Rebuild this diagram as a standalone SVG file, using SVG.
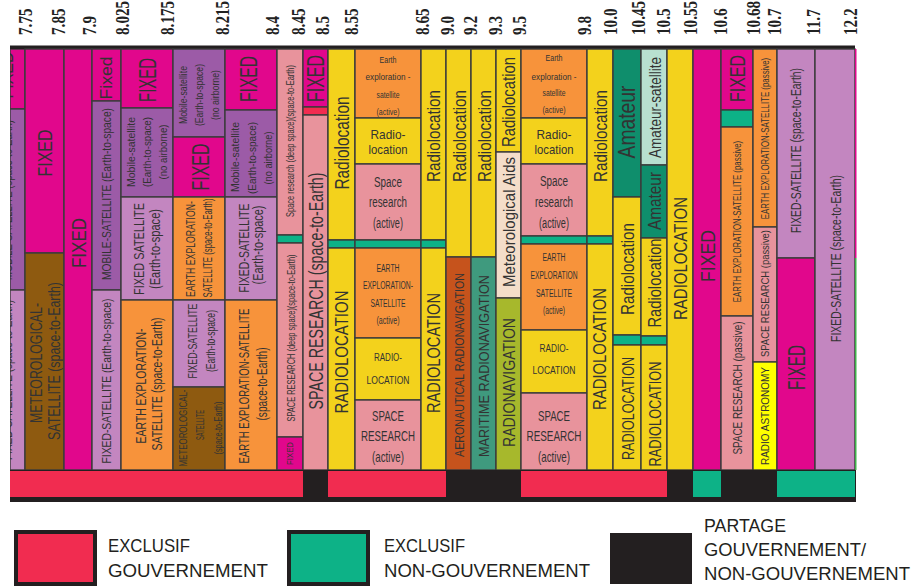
<svg xmlns="http://www.w3.org/2000/svg" width="914" height="588" viewBox="0 0 914 588">
<style>
.c{stroke:#3b3b3b;stroke-width:1.4}
.fx{fill:#e1078c}.ms{fill:#9c5ba7}.fs{fill:#c386c0}.ee{fill:#f7933b}.me{fill:#8e5a10}.sr{fill:#e8939c}.rl{fill:#f3d21c}.gn{fill:#0db287}.rd{fill:#f12c50}.ar{fill:#c6531c}.mr{fill:#3f9a7e}.rn{fill:#a7b82c}.ma{fill:#f4ddc9}.am{fill:#0f8e6c}.as{fill:#b8e0d0}.ra{fill:#ffff00}
text{font-family:"Liberation Sans",Arial,sans-serif;fill:#333}
.v,.h{text-anchor:middle;dominant-baseline:central}
.f{font-family:"Liberation Serif","Times New Roman",serif;font-weight:bold;fill:#222;font-size:19px}
.lg{font-size:18px;fill:#231f20}
</style>
<defs>
<clipPath id="clip1"><rect x="10" y="49" width="15" height="421"/></clipPath>
</defs>

<g id="freq-labels">
<text class="f" transform="translate(32,35) rotate(-90) scale(0.8,1)">7.75</text>
<text class="f" transform="translate(65,35) rotate(-90) scale(0.8,1)">7.85</text>
<text class="f" transform="translate(96,35) rotate(-90) scale(0.8,1)">7.9</text>
<text class="f" transform="translate(128.5,35) rotate(-90) scale(0.8,1)">8.025</text>
<text class="f" transform="translate(174,35) rotate(-90) scale(0.8,1)">8.175</text>
<text class="f" transform="translate(228.5,35) rotate(-90) scale(0.8,1)">8.215</text>
<text class="f" transform="translate(278.5,35) rotate(-90) scale(0.8,1)">8.4</text>
<text class="f" transform="translate(304.5,35) rotate(-90) scale(0.8,1)">8.45</text>
<text class="f" transform="translate(328.5,35) rotate(-90) scale(0.8,1)">8.5</text>
<text class="f" transform="translate(357.5,35) rotate(-90) scale(0.8,1)">8.55</text>
<text class="f" transform="translate(428.5,35) rotate(-90) scale(0.8,1)">8.65</text>
<text class="f" transform="translate(453.5,35) rotate(-90) scale(0.8,1)">9.0</text>
<text class="f" transform="translate(476.5,35) rotate(-90) scale(0.8,1)">9.2</text>
<text class="f" transform="translate(501.5,35) rotate(-90) scale(0.8,1)">9.3</text>
<text class="f" transform="translate(525.5,35) rotate(-90) scale(0.8,1)">9.5</text>
<text class="f" transform="translate(590.5,35) rotate(-90) scale(0.8,1)">9.8</text>
<text class="f" transform="translate(616.5,35) rotate(-90) scale(0.8,1)">10.0</text>
<text class="f" transform="translate(644.5,35) rotate(-90) scale(0.8,1)">10.45</text>
<text class="f" transform="translate(669.5,35) rotate(-90) scale(0.8,1)">10.5</text>
<text class="f" transform="translate(696.5,35) rotate(-90) scale(0.8,1)">10.55</text>
<text class="f" transform="translate(726.5,35) rotate(-90) scale(0.8,1)">10.6</text>
<text class="f" transform="translate(759.5,35) rotate(-90) scale(0.8,1)">10.68</text>
<text class="f" transform="translate(780.5,35) rotate(-90) scale(0.8,1)">10.7</text>
<text class="f" transform="translate(819.5,35) rotate(-90) scale(0.8,1)">11.7</text>
<text class="f" transform="translate(856.5,35) rotate(-90) scale(0.8,1)">12.2</text>
</g>

<rect x="10" y="45.5" width="845" height="4" fill="#231f20"/>

<g id="band-7.7" clip-path="url(#clip1)">
<rect class="c fx" x="10" y="49" width="15" height="60"/>
<rect class="c ms" x="10" y="109" width="15" height="181"/>
<rect class="c fs" x="10" y="290" width="15" height="180"/>
<text class="v" font-size="20" textLength="47" lengthAdjust="spacingAndGlyphs" transform="translate(6,75) rotate(-90)">FIXED</text>
<text class="v" font-size="13" textLength="160" lengthAdjust="spacingAndGlyphs" transform="translate(7,200) rotate(-90)">MOBILE-SATELLITE (space-to-Earth)</text>
<text class="v" font-size="13" textLength="160" lengthAdjust="spacingAndGlyphs" transform="translate(7,380) rotate(-90)">FIXED-SATELLITE (space-to-Earth)</text>
</g>

<g id="band-7.75">
<g id="b775-fixed"><rect class="c fx" x="25" y="49" width="39" height="204"/>
<text class="v" font-size="20" textLength="47" lengthAdjust="spacingAndGlyphs" transform="translate(44.5,153) rotate(-90)">FIXED</text></g>
<g id="b775-met"><rect class="c me" x="25" y="253" width="39" height="217"/>
<text class="v" font-size="17" textLength="120" lengthAdjust="spacingAndGlyphs" transform="translate(36.5,363) rotate(-90)">METEOROLOGICAL-</text>
<text class="v" font-size="17" textLength="158" lengthAdjust="spacingAndGlyphs" transform="translate(54.5,361) rotate(-90)">SATELLITE (space-to-Earth)</text></g>
</g>

<g id="band-7.85">
<rect class="c fx" x="64" y="49" width="28" height="421"/>
<text class="v" font-size="21" textLength="50" lengthAdjust="spacingAndGlyphs" transform="translate(78,243) rotate(-90)">FIXED</text>
</g>

<g id="band-7.9">
<g id="b79-fixed"><rect class="c fx" x="92" y="49" width="29" height="52"/>
<text class="v" font-size="17" textLength="43" lengthAdjust="spacingAndGlyphs" transform="translate(106.5,78) rotate(-90)">Fixed</text></g>
<g id="b79-mob"><rect class="c ms" x="92" y="101" width="29" height="189"/>
<text class="v" font-size="13" textLength="172" lengthAdjust="spacingAndGlyphs" transform="translate(106.5,194) rotate(-90)">MOBILE-SATELLITE (Earth-to-space)</text></g>
<g id="b79-fs"><rect class="c fs" x="92" y="290" width="29" height="180"/>
<text class="v" font-size="13" textLength="165" lengthAdjust="spacingAndGlyphs" transform="translate(106.5,381) rotate(-90)">FIXED-SATELLITE (Earth-to-space)</text></g>
</g>

<g id="band-8.025">
<g id="b8025-fixed"><rect class="c fx" x="121" y="49" width="52" height="59"/>
<text class="v" font-size="24" textLength="44" lengthAdjust="spacingAndGlyphs" transform="translate(147.5,80) rotate(-90)">FIXED</text></g>
<g id="b8025-mob"><rect class="c ms" x="121" y="108" width="52" height="89"/>
<text class="v" font-size="11" textLength="70" lengthAdjust="spacingAndGlyphs" transform="translate(131,152) rotate(-90)">Mobile-satellite</text>
<text class="v" font-size="11" textLength="70" lengthAdjust="spacingAndGlyphs" transform="translate(147,152) rotate(-90)">(Earth-to-space)</text>
<text class="v" font-size="11" textLength="55" lengthAdjust="spacingAndGlyphs" transform="translate(163,152) rotate(-90)">(no airborne)</text></g>
<g id="b8025-fs"><rect class="c fs" x="121" y="197" width="52" height="103"/>
<text class="v" font-size="15" textLength="92" lengthAdjust="spacingAndGlyphs" transform="translate(138,249) rotate(-90)">FIXED SATELLITE</text>
<text class="v" font-size="14" textLength="80" lengthAdjust="spacingAndGlyphs" transform="translate(155,249) rotate(-90)">(Earth-to-space)</text></g>
<g id="b8025-ee"><rect class="c ee" x="121" y="300" width="52" height="170"/>
<text class="v" font-size="15" textLength="115" lengthAdjust="spacingAndGlyphs" transform="translate(140,386) rotate(-90)">EARTH EXPLORATION-</text>
<text class="v" font-size="15" textLength="133" lengthAdjust="spacingAndGlyphs" transform="translate(156,384) rotate(-90)">SATELLITE (space-to-Earth)</text></g>
</g>

<g id="band-8.175">
<g id="b8175-mob"><rect class="c ms" x="173" y="49" width="52" height="88"/>
<text class="v" font-size="10.5" textLength="58" lengthAdjust="spacingAndGlyphs" transform="translate(183,95) rotate(-90)">Mobile-satellite</text>
<text class="v" font-size="10.5" textLength="62" lengthAdjust="spacingAndGlyphs" transform="translate(199,95) rotate(-90)">(Earth-to-space)</text>
<text class="v" font-size="10.5" textLength="50" lengthAdjust="spacingAndGlyphs" transform="translate(215,95) rotate(-90)">(no airborne)</text></g>
<g id="b8175-fixed"><rect class="c fx" x="173" y="137" width="52" height="60"/>
<text class="v" font-size="23" textLength="47" lengthAdjust="spacingAndGlyphs" transform="translate(201,167) rotate(-90)">FIXED</text></g>
<g id="b8175-ee"><rect class="c ee" x="173" y="197" width="52" height="103"/>
<text class="v" font-size="12" textLength="96" lengthAdjust="spacingAndGlyphs" transform="translate(191,249) rotate(-90)">EARTH EXPLORATION-</text>
<text class="v" font-size="12" textLength="99" lengthAdjust="spacingAndGlyphs" transform="translate(208,248) rotate(-90)">SATELLITE (space-to-Earth)</text></g>
<g id="b8175-fs"><rect class="c fs" x="173" y="300" width="52" height="87"/>
<text class="v" font-size="13" textLength="75" lengthAdjust="spacingAndGlyphs" transform="translate(192,341) rotate(-90)">FIXED-SATELLITE</text>
<text class="v" font-size="13" textLength="62" lengthAdjust="spacingAndGlyphs" transform="translate(210,341) rotate(-90)">(Earth-to-space)</text></g>
<g id="b8175-met"><rect class="c me" x="173" y="387" width="52" height="83"/>
<text class="v" font-size="10" textLength="77" lengthAdjust="spacingAndGlyphs" transform="translate(183,428) rotate(-90)">METEOROLOGICAL-</text>
<text class="v" font-size="10" textLength="30" lengthAdjust="spacingAndGlyphs" transform="translate(200,425) rotate(-90)">SATELLITE</text>
<text class="v" font-size="10" textLength="53" lengthAdjust="spacingAndGlyphs" transform="translate(218,428) rotate(-90)">(space-to-Earth)</text></g>
</g>

<g id="band-8.215">
<g id="b8215-fixed"><rect class="c fx" x="225" y="49" width="52" height="61"/>
<text class="v" font-size="24" textLength="46" lengthAdjust="spacingAndGlyphs" transform="translate(248,79) rotate(-90)">FIXED</text></g>
<g id="b8215-mob"><rect class="c ms" x="225" y="110" width="52" height="87"/>
<text class="v" font-size="11" textLength="70" lengthAdjust="spacingAndGlyphs" transform="translate(235,157) rotate(-90)">Mobile-satellite</text>
<text class="v" font-size="11" textLength="72" lengthAdjust="spacingAndGlyphs" transform="translate(252,158) rotate(-90)">(Earth-to-space)</text>
<text class="v" font-size="11" textLength="53" lengthAdjust="spacingAndGlyphs" transform="translate(268,158) rotate(-90)">(no airborne)</text></g>
<g id="b8215-fs"><rect class="c fs" x="225" y="197" width="52" height="103"/>
<text class="v" font-size="15" textLength="89" lengthAdjust="spacingAndGlyphs" transform="translate(243,248) rotate(-90)">FIXED-SATELLITE</text>
<text class="v" font-size="14" textLength="79" lengthAdjust="spacingAndGlyphs" transform="translate(258,245) rotate(-90)">(Earth-to-space)</text></g>
<g id="b8215-ee"><rect class="c ee" x="225" y="300" width="52" height="170"/>
<text class="v" font-size="15" textLength="155" lengthAdjust="spacingAndGlyphs" transform="translate(243,386) rotate(-90)">EARTH EXPLORATION-SATELLITE</text>
<text class="v" font-size="14" textLength="73" lengthAdjust="spacingAndGlyphs" transform="translate(262,384) rotate(-90)">(space-to-Earth)</text></g>
</g>

<g id="band-8.4">
<g id="b84-sr1"><rect class="c sr" x="277" y="49" width="26" height="186"/>
<text class="v" font-size="10" textLength="152" lengthAdjust="spacingAndGlyphs" transform="translate(290,141) rotate(-90)">Space research (deep space)(space-to-Earth)</text></g>
<rect class="c gn" x="277" y="235" width="26" height="8"/>
<g id="b84-sr2"><rect class="c sr" x="277" y="243" width="26" height="194"/>
<text class="v" font-size="10" textLength="167" lengthAdjust="spacingAndGlyphs" transform="translate(291,338) rotate(-90)">SPACE RESEARCH (deep space)(space-to-Earth)</text></g>
<g id="b84-fixed"><rect class="c fx" x="277" y="437" width="26" height="33"/>
<text class="v" font-size="9" textLength="23" lengthAdjust="spacingAndGlyphs" transform="translate(290,453.5) rotate(-90)">FIXED</text></g>
</g>

<g id="band-8.45">
<g id="b845-fixed"><rect class="c fx" x="303" y="49" width="25" height="58"/>
<text class="v" font-size="23" textLength="47" lengthAdjust="spacingAndGlyphs" transform="translate(316,78.5) rotate(-90)">FIXED</text></g>
<rect class="c rd" x="303" y="107" width="25" height="8"/>
<g id="b845-sr"><rect class="c sr" x="303" y="115" width="25" height="355"/>
<text class="v" font-size="20" textLength="237" lengthAdjust="spacingAndGlyphs" transform="translate(315.5,291) rotate(-90)">SPACE RESEARCH (space-to-Earth)</text></g>
</g>

<g id="band-8.5">
<g id="b85-rl1"><rect class="c rl" x="328" y="49" width="27" height="191"/>
<text class="v" font-size="20" textLength="93" lengthAdjust="spacingAndGlyphs" transform="translate(342,143) rotate(-90)">Radiolocation</text></g>
<rect class="c gn" x="328" y="240" width="27" height="8"/>
<g id="b85-rl2"><rect class="c rl" x="328" y="248" width="27" height="222"/>
<text class="v" font-size="18" textLength="123" lengthAdjust="spacingAndGlyphs" transform="translate(341.5,352) rotate(-90)">RADIOLOCATION</text></g>
</g>

<g id="band-8.55">
<g id="b855-ee1"><rect class="c ee" x="355" y="49" width="66" height="69"/>
<text class="h" x="388" y="60" font-size="9" textLength="17" lengthAdjust="spacingAndGlyphs">Earth</text>
<text class="h" x="388" y="77" font-size="9" textLength="45" lengthAdjust="spacingAndGlyphs">exploration -</text>
<text class="h" x="388" y="95" font-size="9" textLength="23" lengthAdjust="spacingAndGlyphs">satellite</text>
<text class="h" x="388" y="112" font-size="9" textLength="23" lengthAdjust="spacingAndGlyphs">(active)</text></g>
<g id="b855-rl1"><rect class="c rl" x="355" y="118" width="66" height="46"/>
<text class="h" x="388" y="134" font-size="13.5" textLength="35" lengthAdjust="spacingAndGlyphs">Radio-</text>
<text class="h" x="388" y="149" font-size="13.5" textLength="39" lengthAdjust="spacingAndGlyphs">location</text></g>
<g id="b855-sr1"><rect class="c sr" x="355" y="164" width="66" height="76"/>
<text class="h" x="388" y="182" font-size="14" textLength="28" lengthAdjust="spacingAndGlyphs">Space</text>
<text class="h" x="388" y="202" font-size="14" textLength="38" lengthAdjust="spacingAndGlyphs">research</text>
<text class="h" x="388" y="223" font-size="14" textLength="30" lengthAdjust="spacingAndGlyphs">(active)</text></g>
<rect class="c gn" x="355" y="240" width="66" height="8"/>
<g id="b855-ee2"><rect class="c ee" x="355" y="248" width="66" height="90"/>
<text class="h" x="388" y="268" font-size="10" textLength="23" lengthAdjust="spacingAndGlyphs">EARTH</text>
<text class="h" x="388" y="285" font-size="10" textLength="50" lengthAdjust="spacingAndGlyphs">EXPLORATION-</text>
<text class="h" x="388" y="303" font-size="10" textLength="35" lengthAdjust="spacingAndGlyphs">SATELLITE</text>
<text class="h" x="388" y="320" font-size="10" textLength="23" lengthAdjust="spacingAndGlyphs">(active)</text></g>
<g id="b855-rl2"><rect class="c rl" x="355" y="338" width="66" height="62"/>
<text class="h" x="388" y="357" font-size="11" textLength="28" lengthAdjust="spacingAndGlyphs">RADIO-</text>
<text class="h" x="388" y="380" font-size="11" textLength="43" lengthAdjust="spacingAndGlyphs">LOCATION</text></g>
<g id="b855-sr2"><rect class="c sr" x="355" y="400" width="66" height="70"/>
<text class="h" x="388" y="415" font-size="15" textLength="32" lengthAdjust="spacingAndGlyphs">SPACE</text>
<text class="h" x="388" y="435" font-size="15" textLength="54" lengthAdjust="spacingAndGlyphs">RESEARCH</text>
<text class="h" x="388" y="456" font-size="15" textLength="32" lengthAdjust="spacingAndGlyphs">(active)</text></g>
</g>

<g id="band-8.65">
<g id="b865-rl1"><rect class="c rl" x="421" y="49" width="25" height="191"/>
<text class="v" font-size="19" textLength="92" lengthAdjust="spacingAndGlyphs" transform="translate(433,136) rotate(-90)">Radiolocation</text></g>
<rect class="c gn" x="421" y="240" width="25" height="8"/>
<g id="b865-rl2"><rect class="c rl" x="421" y="248" width="25" height="222"/>
<text class="v" font-size="18" textLength="120" lengthAdjust="spacingAndGlyphs" transform="translate(433.5,353) rotate(-90)">RADIOLOCATION</text></g>
</g>

<g id="band-9.0">
<g id="b90-rl"><rect class="c rl" x="446" y="49" width="25" height="208"/>
<text class="v" font-size="19" textLength="92" lengthAdjust="spacingAndGlyphs" transform="translate(459,136) rotate(-90)">Radiolocation</text></g>
<g id="b90-ar"><rect class="c ar" x="446" y="257" width="25" height="213"/>
<text class="v" font-size="13" textLength="184" lengthAdjust="spacingAndGlyphs" transform="translate(459.5,365) rotate(-90)">AERONAUTICAL RADIONAVIGATION</text></g>
</g>

<g id="band-9.2">
<g id="b92-rl"><rect class="c rl" x="471" y="49" width="25" height="208"/>
<text class="v" font-size="19" textLength="92" lengthAdjust="spacingAndGlyphs" transform="translate(484,136) rotate(-90)">Radiolocation</text></g>
<g id="b92-mr"><rect class="c mr" x="471" y="257" width="25" height="213"/>
<text class="v" font-size="14" textLength="182" lengthAdjust="spacingAndGlyphs" transform="translate(484,366) rotate(-90)">MARITIME RADIONAVIGATION</text></g>
</g>

<g id="band-9.3">
<g id="b93-rl"><rect class="c rl" x="496" y="49" width="25" height="103"/>
<text class="v" font-size="18" textLength="90" lengthAdjust="spacingAndGlyphs" transform="translate(509,102) rotate(-90)">Radiolocation</text></g>
<g id="b93-ma"><rect class="c ma" x="496" y="152" width="25" height="146"/>
<text class="v" font-size="17" textLength="130" lengthAdjust="spacingAndGlyphs" transform="translate(509,222) rotate(-90)">Meteorological Aids</text></g>
<g id="b93-rn"><rect class="c rn" x="496" y="298" width="25" height="172"/>
<text class="v" font-size="17" textLength="129" lengthAdjust="spacingAndGlyphs" transform="translate(509,382.5) rotate(-90)">RADIONAVIGATION</text></g>
</g>

<g id="band-9.5">
<g id="b95-ee1"><rect class="c ee" x="521" y="49" width="66" height="69"/>
<text class="h" x="554" y="58" font-size="9" textLength="17" lengthAdjust="spacingAndGlyphs">Earth</text>
<text class="h" x="554" y="77" font-size="9" textLength="45" lengthAdjust="spacingAndGlyphs">exploration -</text>
<text class="h" x="554" y="93" font-size="9" textLength="23" lengthAdjust="spacingAndGlyphs">satellite</text>
<text class="h" x="554" y="110" font-size="9" textLength="23" lengthAdjust="spacingAndGlyphs">(active)</text></g>
<g id="b95-rl1"><rect class="c rl" x="521" y="118" width="66" height="46"/>
<text class="h" x="554" y="134" font-size="13.5" textLength="35" lengthAdjust="spacingAndGlyphs">Radio-</text>
<text class="h" x="554" y="149" font-size="13.5" textLength="39" lengthAdjust="spacingAndGlyphs">location</text></g>
<g id="b95-sr1"><rect class="c sr" x="521" y="164" width="66" height="72"/>
<text class="h" x="554" y="181" font-size="14" textLength="28" lengthAdjust="spacingAndGlyphs">Space</text>
<text class="h" x="554" y="202" font-size="14" textLength="38" lengthAdjust="spacingAndGlyphs">research</text>
<text class="h" x="554" y="223" font-size="14" textLength="30" lengthAdjust="spacingAndGlyphs">(active)</text></g>
<rect class="c gn" x="521" y="236" width="66" height="8"/>
<g id="b95-ee2"><rect class="c ee" x="521" y="244" width="66" height="86"/>
<text class="h" x="554" y="257" font-size="10" textLength="23" lengthAdjust="spacingAndGlyphs">EARTH</text>
<text class="h" x="554" y="275" font-size="10" textLength="47" lengthAdjust="spacingAndGlyphs">EXPLORATION</text>
<text class="h" x="554" y="293" font-size="10" textLength="36" lengthAdjust="spacingAndGlyphs">SATELLITE</text>
<text class="h" x="554" y="310" font-size="10" textLength="22" lengthAdjust="spacingAndGlyphs">(active)</text></g>
<g id="b95-rl2"><rect class="c rl" x="521" y="330" width="66" height="63"/>
<text class="h" x="554" y="348" font-size="11" textLength="29" lengthAdjust="spacingAndGlyphs">RADIO-</text>
<text class="h" x="554" y="370" font-size="11" textLength="43" lengthAdjust="spacingAndGlyphs">LOCATION</text></g>
<g id="b95-sr2"><rect class="c sr" x="521" y="393" width="66" height="77"/>
<text class="h" x="554" y="415" font-size="15" textLength="32" lengthAdjust="spacingAndGlyphs">SPACE</text>
<text class="h" x="554" y="435" font-size="15" textLength="55" lengthAdjust="spacingAndGlyphs">RESEARCH</text>
<text class="h" x="554" y="456" font-size="15" textLength="32" lengthAdjust="spacingAndGlyphs">(active)</text></g>
</g>

<g id="band-9.8">
<g id="b98-rl1"><rect class="c rl" x="587" y="49" width="26" height="187"/>
<text class="v" font-size="19" textLength="92" lengthAdjust="spacingAndGlyphs" transform="translate(600,136) rotate(-90)">Radiolocation</text></g>
<rect class="c gn" x="587" y="236" width="26" height="8"/>
<g id="b98-rl2"><rect class="c rl" x="587" y="244" width="26" height="226"/>
<text class="v" font-size="18" textLength="122" lengthAdjust="spacingAndGlyphs" transform="translate(600,349) rotate(-90)">RADIOLOCATION</text></g>
</g>

<g id="band-10.0">
<g id="b100-am"><rect class="c am" x="613" y="49" width="28" height="148"/>
<text class="v" font-size="23" textLength="73" lengthAdjust="spacingAndGlyphs" transform="translate(627,122) rotate(-90)">Amateur</text></g>
<g id="b100-rl1"><rect class="c rl" x="613" y="197" width="28" height="138"/>
<text class="v" font-size="19" textLength="92" lengthAdjust="spacingAndGlyphs" transform="translate(627,269) rotate(-90)">Radiolocation</text></g>
<rect class="c gn" x="613" y="335" width="28" height="10"/>
<g id="b100-rl2"><rect class="c rl" x="613" y="345" width="28" height="125"/>
<text class="v" font-size="16" textLength="103" lengthAdjust="spacingAndGlyphs" transform="translate(628,408.5) rotate(-90)">RADIOLOCATION</text></g>
</g>

<g id="band-10.45">
<g id="b1045-as"><rect class="c as" x="641" y="49" width="26" height="116"/>
<text class="v" font-size="16" textLength="101" lengthAdjust="spacingAndGlyphs" transform="translate(655,107.5) rotate(-90)">Amateur-satellite</text></g>
<g id="b1045-am"><rect class="c am" x="641" y="165" width="26" height="73"/>
<text class="v" font-size="18" textLength="58" lengthAdjust="spacingAndGlyphs" transform="translate(655,201) rotate(-90)">Amateur</text></g>
<g id="b1045-rl1"><rect class="c rl" x="641" y="238" width="26" height="98"/>
<text class="v" font-size="18" textLength="89" lengthAdjust="spacingAndGlyphs" transform="translate(655,283) rotate(-90)">Radiolocation</text></g>
<rect class="c gn" x="641" y="336" width="26" height="9"/>
<g id="b1045-rl2"><rect class="c rl" x="641" y="345" width="26" height="125"/>
<text class="v" font-size="16" textLength="105" lengthAdjust="spacingAndGlyphs" transform="translate(655,414) rotate(-90)">RADIOLOCATION</text></g>
</g>

<g id="band-10.5">
<rect class="c rl" x="667" y="49" width="26" height="421"/>
<text class="v" font-size="19" textLength="123" lengthAdjust="spacingAndGlyphs" transform="translate(680,258.5) rotate(-90)">RADIOLOCATION</text>
</g>

<g id="band-10.55">
<rect class="c fx" x="693" y="49" width="28" height="421"/>
<text class="v" font-size="21" textLength="52" lengthAdjust="spacingAndGlyphs" transform="translate(707,256) rotate(-90)">FIXED</text>
</g>

<g id="band-10.6">
<g id="b106-fixed"><rect class="c fx" x="721" y="49" width="32" height="61"/>
<text class="v" font-size="22" textLength="47" lengthAdjust="spacingAndGlyphs" transform="translate(737.5,78.5) rotate(-90)">FIXED</text></g>
<rect class="c gn" x="721" y="110" width="32" height="17"/>
<g id="b106-ee"><rect class="c ee" x="721" y="127" width="32" height="189"/>
<text class="v" font-size="11" transform="translate(737,221.5) rotate(-90) scale(0.715,1)">EARTH EXPLORATION-SATELLITE (passive)</text></g>
<g id="b106-sr"><rect class="c sr" x="721" y="316" width="32" height="154"/>
<text class="v" font-size="13" textLength="133" lengthAdjust="spacingAndGlyphs" transform="translate(737,388) rotate(-90)">SPACE RESEARCH (passive)</text></g>
</g>

<g id="band-10.68">
<g id="b1068-ee"><rect class="c ee" x="753" y="49" width="24" height="178"/>
<text class="v" font-size="11" transform="translate(765,138.5) rotate(-90) scale(0.715,1)">EARTH EXPLORATION-SATELLITE (passive)</text></g>
<g id="b1068-sr"><rect class="c sr" x="753" y="227" width="24" height="135"/>
<text class="v" font-size="11" textLength="127" lengthAdjust="spacingAndGlyphs" transform="translate(765,293.5) rotate(-90)">SPACE RESEARCH (passive)</text></g>
<g id="b1068-ra"><rect class="c ra" x="753" y="362" width="24" height="108"/>
<text class="v" font-size="11" textLength="98" lengthAdjust="spacingAndGlyphs" transform="translate(764.5,416) rotate(-90)">RADIO ASTRONOMY</text></g>
</g>

<g id="band-10.7">
<g id="b107-fs"><rect class="c fs" x="777" y="49" width="38" height="209"/>
<text class="v" font-size="14" textLength="165" lengthAdjust="spacingAndGlyphs" transform="translate(796,150.5) rotate(-90)">FIXED-SATELLITE (space-to-Earth)</text></g>
<g id="b107-fixed"><rect class="c fx" x="777" y="258" width="38" height="212"/>
<text class="v" font-size="23" textLength="45" lengthAdjust="spacingAndGlyphs" transform="translate(797,367.5) rotate(-90)">FIXED</text></g>
</g>

<g id="band-11.7">
<rect class="c fs" x="815" y="49" width="40" height="421"/>
<text class="v" font-size="14" textLength="167" lengthAdjust="spacingAndGlyphs" transform="translate(836,258.5) rotate(-90)">FIXED-SATELLITE (space-to-Earth)</text>
</g>
<rect x="855" y="49" width="1.5" height="209" fill="#e1078c"/>
<rect x="855" y="258" width="1.5" height="212" fill="#3fb24a"/>

<g id="status-bar">
<rect x="10" y="470" width="846" height="32" fill="#231f20"/>
<rect class="rd" x="10" y="471" width="293" height="26"/>
<rect class="rd" x="328" y="471" width="118" height="26"/>
<rect class="rd" x="521" y="471" width="146" height="26"/>
<rect class="gn" x="693" y="471" width="28" height="26"/>
<rect class="gn" x="777" y="471" width="78" height="26"/>
</g>

<g id="legend-gov">
<rect class="rd" x="16" y="532" width="79" height="52" stroke="#231f20" stroke-width="4"/>
<text class="lg" x="108" y="552" textLength="82" lengthAdjust="spacingAndGlyphs">EXCLUSIF</text>
<text class="lg" x="108" y="577" textLength="160" lengthAdjust="spacingAndGlyphs">GOUVERNEMENT</text>
</g>
<g id="legend-nongov">
<rect class="gn" x="289" y="532" width="79" height="52" stroke="#231f20" stroke-width="4"/>
<text class="lg" x="384" y="552" textLength="81" lengthAdjust="spacingAndGlyphs">EXCLUSIF</text>
<text class="lg" x="384" y="577" textLength="206" lengthAdjust="spacingAndGlyphs">NON-GOUVERNEMENT</text>
</g>
<g id="legend-shared">
<rect x="610" y="533" width="82" height="51" fill="#231f20"/>
<text class="lg" x="704" y="532" textLength="82" lengthAdjust="spacingAndGlyphs">PARTAGE</text>
<text class="lg" x="704" y="556" textLength="162" lengthAdjust="spacingAndGlyphs">GOUVERNEMENT/</text>
<text class="lg" x="704" y="580" textLength="206" lengthAdjust="spacingAndGlyphs">NON-GOUVERNEMENT</text>
</g>
</svg>
